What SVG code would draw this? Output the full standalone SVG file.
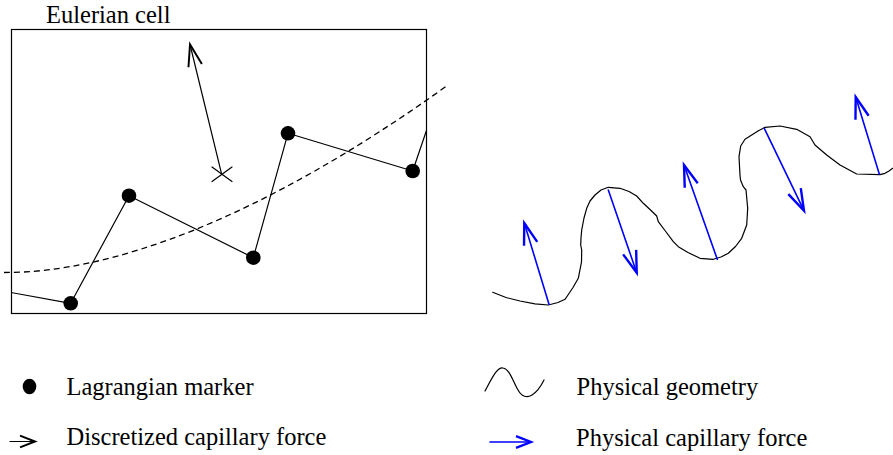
<svg xmlns="http://www.w3.org/2000/svg" width="893" height="455" viewBox="0 0 893 455" font-family="'Liberation Serif', 'DejaVu Serif', serif">
<style>
  text { font-family: 'Liberation Serif', 'DejaVu Serif', serif; fill: #000; }
  .lbl { font-size: 24.5px; }
  .ln { fill: none; stroke: #000; stroke-width: 1.2; stroke-linejoin: round; stroke-linecap: round; }
  .blue { fill: none; stroke: #0000ff; stroke-width: 1.6; stroke-linecap: round; }
  .dot { fill: #000; }
</style>
<defs>
  <marker id="hk" markerUnits="userSpaceOnUse" markerWidth="30" markerHeight="30" viewBox="-16 -8 20 16" refX="0" refY="0" orient="auto" overflow="visible">
    <path d="M-14.5,-4.6 L0,0 L-14.5,4.6" fill="none" stroke="#000" stroke-width="1.3"/>
  </marker>
  <marker id="hb" markerUnits="userSpaceOnUse" markerWidth="30" markerHeight="30" viewBox="-16 -8 20 16" refX="0" refY="0" orient="auto" overflow="visible">
    <path d="M-14.5,-4.6 L0,0 L-14.5,4.6" fill="none" stroke="#0000ff" stroke-width="1.6"/>
  </marker>
  <marker id="hks" markerUnits="userSpaceOnUse" markerWidth="20" markerHeight="20" viewBox="-10 -5 12 10" refX="0" refY="0" orient="auto" overflow="visible">
    <path d="M-9,-3.5 L0,0 L-9,3.5" fill="none" stroke="#000" stroke-width="1.2"/>
  </marker>
  <marker id="hbs" markerUnits="userSpaceOnUse" markerWidth="20" markerHeight="20" viewBox="-10 -5 12 10" refX="0" refY="0" orient="auto" overflow="visible">
    <path d="M-9,-3.5 L0,0 L-9,3.5" fill="none" stroke="#0000ff" stroke-width="1.4"/>
  </marker>
  <clipPath id="cellclip"><rect x="11" y="29" width="415" height="284"/></clipPath>
</defs>

<g id="eulerian-cell">
  <text x="46" y="23" style="font-size:24.5px">Eulerian cell</text>
  <rect x="11.5" y="29.5" width="415" height="284" fill="none" stroke="#000" stroke-width="1.2"/>
</g>

<g id="physical-interface-dashed">
  <path d="M4,272.5 C110,273 260,220 448,85" fill="none" stroke="#000" stroke-width="1.3" stroke-dasharray="6,4"/>
</g>

<g id="connectors">
  <polyline class="ln" clip-path="url(#cellclip)" points="0,290.5 70.7,303.3 129,195.7 253.3,257.7 288,133.3 412.7,171 428,126"/>
  <line class="ln" x1="221.7" y1="174.3" x2="190" y2="44.5" marker-end="url(#hk)"/>
</g>

<g id="cross-point">
  <path class="ln" d="M212,167 L232,181.5 M212,181.5 L232,167"/>
</g>

<g id="markers">
  <circle id="m1" class="dot" cx="70.7" cy="303.3" r="7.3"/>
  <circle id="m2" class="dot" cx="129" cy="195.7" r="7.3"/>
  <circle id="m3" class="dot" cx="253.3" cy="257.7" r="7.3"/>
  <circle id="m4" class="dot" cx="288" cy="133.3" r="7.3"/>
  <circle id="m5" class="dot" cx="412.7" cy="171" r="7.3"/>
</g>

<g id="physical-geometry">
  <polyline class="ln" points="492.7,292.3 506,297.5 520,301 535,303.8 548.3,305 558,302.5 565,299.3 567.3,296 573,287.5 578.3,278.3 581.5,262 581.7,250 580.7,245 581,238 581.7,230 584,218 586.7,208.3 590,201 595,195 601,190 608.3,187.3 620,188.3 629,191.5 636.7,196 643.3,203.3 650,209.5 656.7,216 658.3,221.7 665,230.5 673.3,241.7 678.3,246.7 688,252.5 700,258.3 713.3,259.3 721,257 728.3,253.3 735.5,246.5 741.7,238.3 746.7,225 747.7,208.3 746,190 743.3,186.7 740.5,180 740,175 739,156.7 740.7,146 745,139.3 751.7,135 758,131 765,127.3 780,126 796.7,129.3 810,136.7 815,145 826.7,155 840,165 856.7,174 880,174.7 885,173.3 889,171 892.7,168.3"/>
</g>

<g id="physical-forces">
  <line class="blue" x1="549" y1="304.3" x2="524.3" y2="223" marker-end="url(#hb)"/>
  <line class="blue" x1="608.3" y1="190" x2="636.7" y2="272.7" marker-end="url(#hb)"/>
  <line class="blue" x1="717.3" y1="259.3" x2="684" y2="165" marker-end="url(#hb)"/>
  <line class="blue" x1="764.3" y1="128.3" x2="804" y2="210.7" marker-end="url(#hb)"/>
  <line class="blue" x1="879.3" y1="174" x2="855.7" y2="97" marker-end="url(#hb)"/>
</g>

<g id="legend-marker">
  <ellipse class="dot" cx="29.5" cy="386.5" rx="6.8" ry="7.8"/>
  <text class="lbl" x="66.5" y="395">Lagrangian marker</text>
</g>

<g id="legend-discrete-force">
  <line class="ln" x1="10" y1="441.5" x2="35" y2="441.5" marker-end="url(#hks)"/>
  <text class="lbl" x="66.5" y="445">Discretized capillary force</text>
</g>

<g id="legend-geometry">
  <path class="ln" d="M485,391 C492,378 497,367 503,368 C510,369 513,382 518,390 C522,397 527,398 532,395 C537,392 541,386 544,380"/>
  <text class="lbl" x="576.5" y="394.5">Physical geometry</text>
</g>

<g id="legend-physical-force">
  <line class="blue" x1="490" y1="442" x2="531" y2="442" marker-end="url(#hbs)"/>
  <text class="lbl" x="576" y="446">Physical capillary force</text>
</g>
</svg>
